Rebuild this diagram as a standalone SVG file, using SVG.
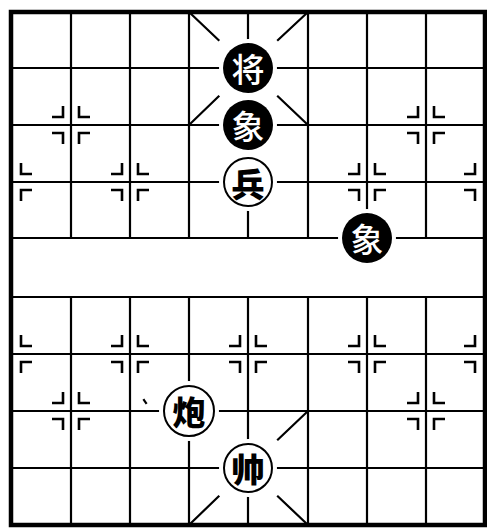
<svg xmlns="http://www.w3.org/2000/svg" xmlns:xlink="http://www.w3.org/1999/xlink" width="487" height="528" viewBox="0 0 487 528">
<style>
.ln{stroke:#000;stroke-width:2.2;fill:none;stroke-linecap:square}
.bd{stroke:#000;stroke-width:4.5;fill:none}
.mk{stroke:#000;stroke-width:2.6;fill:none;stroke-linecap:butt;stroke-linejoin:miter}
.halo{fill:#fff}
.blk{fill:#000}
.wht{fill:#fff;stroke:#000;stroke-width:2}
.tb{font-family:"Noto Sans CJK SC","Noto Sans CJK TC",sans-serif;font-size:33px;font-weight:500;fill:#fff;text-anchor:middle;dominant-baseline:central}
.tw{font-family:"Noto Sans CJK SC","Noto Sans CJK TC",sans-serif;font-size:33px;font-weight:900;fill:#000;text-anchor:middle;dominant-baseline:central}
</style>
<defs>
<path id="mF" class="mk" d="M-19,-8H-8V-19M19,-8H8V-19M-19,8H-8V19M19,8H8V19"/>
<path id="mR" class="mk" d="M19,-8H8V-19M19,8H8V19"/>
<path id="mL" class="mk" d="M-19,-8H-8V-19M-19,8H-8V19"/>
</defs>
<rect width="487" height="528" fill="#fff"/>
<g id="board">
<rect class="bd" x="11" y="12" width="474" height="513"/>
<path class="ln" d="M11,68H485M11,125H485M11,182H485M11,238H485M11,297H485M11,354H485M11,411H485M11,468H485"/>
<path class="ln" d="M71,12V238M130,12V238M189,12V238M248,12V238M308,12V238M367,12V238M426,12V238"/>
<path class="ln" d="M71,297V525M130,297V525M189,297V525M248,297V525M308,297V525M367,297V525M426,297V525"/>
</g>
<g id="connectors">
<path class="ln" d="M189,12L218.5,40M308,12L278,40M189,125L218.5,96.5M308,125L278,96.5"/>
<path class="ln" d="M308,411L278,439.5M189,525L218.5,496.5M308,525L278,496.5"/>
<path class="ln" stroke-width="1.5" d="M144,400L146,403"/>
</g>
<g id="markers">
<use xlink:href="#mF" transform="translate(71,125)"/>
<use xlink:href="#mF" transform="translate(426,125)"/>
<use xlink:href="#mR" transform="translate(13,182)"/>
<use xlink:href="#mF" transform="translate(130,182)"/>
<use xlink:href="#mF" transform="translate(367,182)"/>
<use xlink:href="#mL" transform="translate(483,182)"/>
<use xlink:href="#mR" transform="translate(13,354)"/>
<use xlink:href="#mF" transform="translate(130,354)"/>
<use xlink:href="#mF" transform="translate(248,354)"/>
<use xlink:href="#mF" transform="translate(367,354)"/>
<use xlink:href="#mL" transform="translate(483,354)"/>
<use xlink:href="#mF" transform="translate(71,411)"/>
<use xlink:href="#mF" transform="translate(426,411)"/>
</g>
<g id="piece-jiang">
<circle class="halo" cx="248" cy="68" r="29"/>
<circle class="blk" cx="248" cy="68" r="25"/>
<text class="tb" x="248" y="68">将</text>
</g>
<g id="piece-xiang1">
<circle class="halo" cx="248" cy="125" r="29"/>
<circle class="blk" cx="248" cy="125" r="25"/>
<text class="tb" x="248" y="125">象</text>
</g>
<g id="piece-bing">
<circle class="halo" cx="248" cy="182" r="29"/>
<circle class="wht" cx="248" cy="182" r="24"/>
<text class="tw" x="248" y="183">兵</text>
</g>
<g id="piece-xiang2">
<circle class="halo" cx="367" cy="238" r="29"/>
<circle class="blk" cx="367" cy="238" r="25"/>
<text class="tb" x="367" y="238">象</text>
</g>
<g id="piece-pao">
<circle class="halo" cx="189" cy="411" r="30"/>
<circle class="wht" cx="189" cy="411" r="25"/>
<text class="tw" x="189" y="411">炮</text>
</g>
<g id="piece-shuai">
<circle class="halo" cx="248" cy="468" r="29"/>
<circle class="wht" cx="248" cy="468" r="24"/>
<text class="tw" x="248" y="468">帅</text>
</g>
</svg>
